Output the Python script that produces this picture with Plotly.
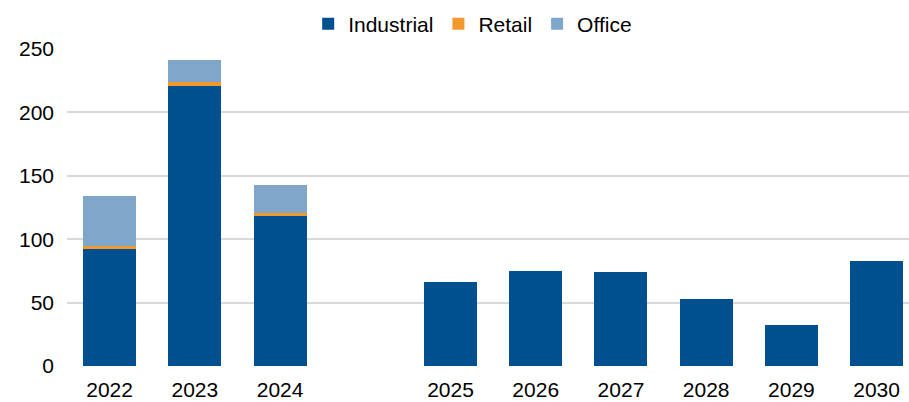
import plotly.graph_objects as go

# Category axis: three actual years, a spacer slot, then the forecast years
years = ["2022", "2023", "2024", " ", "2025", "2026", "2027", "2028", "2029", "2030"]
industrial = [92, 221, 118, None, 66, 75, 74, 53, 32, 83]
retail = [3, 3, 3, None, None, None, None, None, None, None]
office = [39, 17.5, 22, None, None, None, None, None, None, None]

series_names = ["Industrial", "Retail", "Office"]
series_colors = ["#004F8E", "#F2992E", "#80A7C9"]
y_ticks = [0, 50, 100, 150, 200, 250]

FONT = "Liberation Sans, Arial, sans-serif"

fig = go.Figure()
for name, vals, color in zip(series_names, [industrial, retail, office], series_colors):
    fig.add_trace(go.Bar(
        x=years, y=vals, name=name,
        marker=dict(color=color, line=dict(width=0)),
    ))

fig.update_layout(
    width=909, height=402,
    margin=dict(l=67, r=0, t=49, b=36, autoexpand=False),
    barmode="stack",
    bargap=0.378,
    plot_bgcolor="white",
    paper_bgcolor="white",
    font=dict(family=FONT, size=21, color="#000000"),
    showlegend=True,
    legend=dict(
        orientation="h",
        xref="container", yref="container",
        x=0.52, xanchor="center",
        y=0.94, yanchor="middle",
        font=dict(size=21),
        traceorder="normal",
        itemwidth=30,
    ),
    xaxis=dict(
        type="category",
        categoryorder="array", categoryarray=years,
        range=[-0.5, 9.38],
        showgrid=False, showline=False, zeroline=False,
        ticks="", tickfont=dict(size=21),
        ticklabelstandoff=9,
        automargin=False,
    ),
    yaxis=dict(
        range=[0, 250],
        tickvals=y_ticks,
        showgrid=True, gridcolor="#D9D9D9", gridwidth=1.5,
        zeroline=False, showline=False,
        ticks="", tickfont=dict(size=21),
        ticklabelstandoff=12,
        automargin=False,
    ),
)

fig.write_html("out.html")
